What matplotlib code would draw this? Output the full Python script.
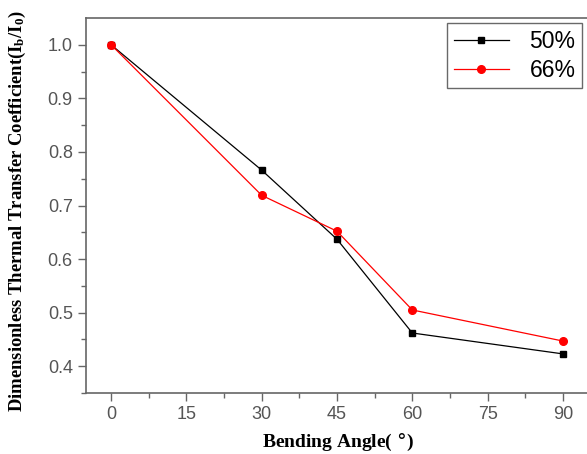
import matplotlib.pyplot as plt
import numpy as np

angle = np.array([0, 30, 45, 60, 90])
r50 = np.array([1.0, 0.766, 0.637, 0.462, 0.423])
r66 = np.array([1.0, 0.719, 0.652, 0.505, 0.447])

xticks = [0, 15, 30, 45, 60, 75, 90]
yticks = [0.4, 0.5, 0.6, 0.7, 0.8, 0.9, 1.0]

fig = plt.figure(figsize=(5.87, 4.54), dpi=100)
ax = fig.add_axes([86/587, 1-393/454, 502/587, 375/454])

ax.plot(angle, r50, color='black', lw=0.9, marker='s', ms=4.8, label='50%')
ax.plot(angle, r66, color='red', lw=0.9, marker='o', ms=5.5, label='66%')

ax.set_xlim(-5, 95)
ax.set_ylim(0.35, 1.05)
ax.set_xticks(xticks)
ax.set_yticks(yticks)
ax.set_xticks(np.arange(7.5, 95, 15), minor=True)
ax.set_yticks(np.arange(0.35, 1.05, 0.1), minor=True)

grey = '#666666'
for s in ax.spines.values():
    s.set_color(grey)
    s.set_linewidth(1.2)
ax.tick_params(which='both', direction='out', colors=grey, labelcolor='#555555',
               labelsize=13, top=False, right=False)
ax.tick_params(which='major', length=6, width=1)
ax.tick_params(which='minor', length=3.5, width=1)
for t in ax.get_xticklabels() + ax.get_yticklabels():
    t.set_family('Liberation Sans')

leg = ax.legend(loc='upper left', bbox_to_anchor=(447/587, 1-23/454), bbox_transform=fig.transFigure,
                prop={'family': 'Liberation Sans', 'size': 16.5}, fancybox=False,
                edgecolor='#444444', borderaxespad=0, handlelength=2.4, labelspacing=0.25,
                borderpad=0.3, handletextpad=0.9)
leg.get_frame().set_linewidth(1.0)

fig.text(338/587, 1-442/454, 'Bending Angle( $\\degree$)', ha='center', va='center',
         family='Liberation Serif', weight='bold', fontsize=14)
# y label: full text kept inside the figure
fig.text(17/587, 1-412/454, 'Dimensionless Thermal Transfer Coefficient($\\mathregular{I_b/I_0}$)',
         rotation=90, ha='center', va='bottom', family='Liberation Serif', weight='bold', fontsize=13.4)

fig.savefig('out.png', dpi=100)
